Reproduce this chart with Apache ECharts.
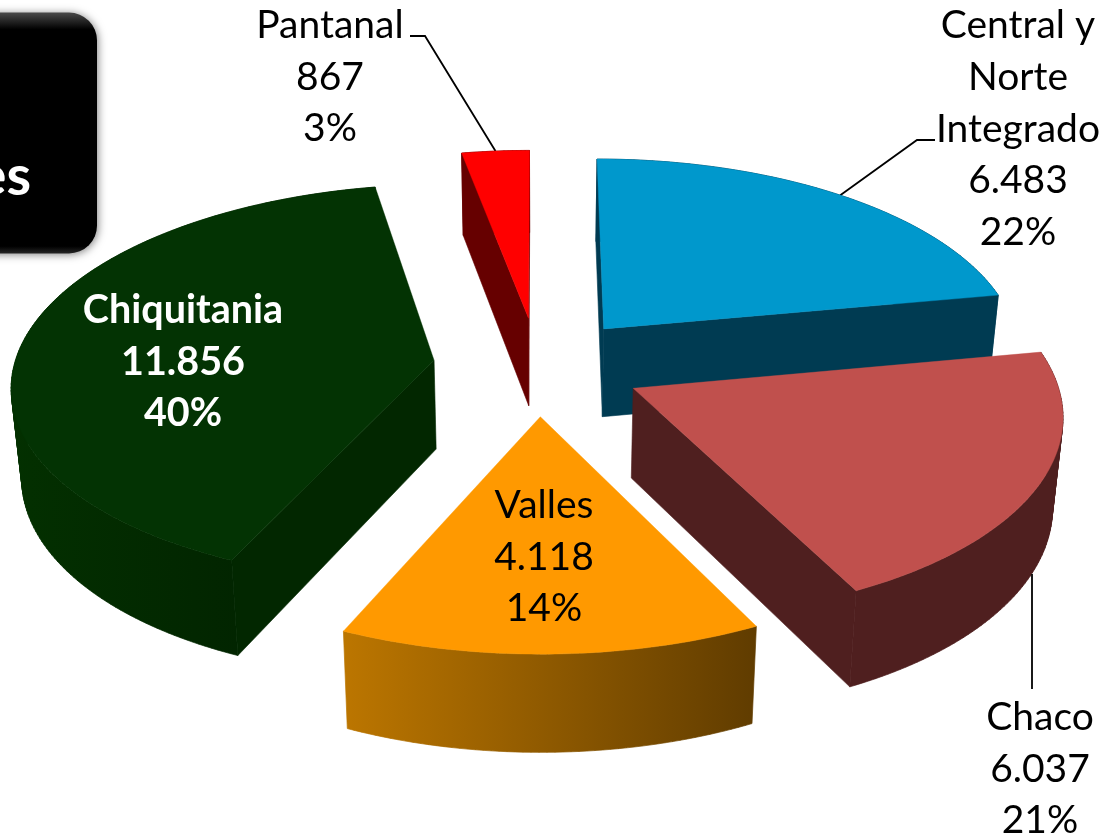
<!DOCTYPE html>
<html>
<head>
<meta charset="utf-8">
<style>html,body{margin:0;padding:0;background:#fff;overflow:hidden}#c{width:1105px;height:837px}</style>
<script src="https://cdn.jsdelivr.net/npm/echarts@6/dist/echarts.min.js"></script>
</head>
<body>
<div id="c"></div>
<script>
const categories = ['Central y\nNorte\nIntegrado', 'Chaco', 'Valles', 'Chiquitania', 'Pantanal'];
const values = [6483, 6037, 4118, 11856, 867];
const percents = ['22%', '21%', '14%', '40%', '3%'];
const valueLabels = ['6.483', '6.037', '4.118', '11.856', '867'];

const topColors = ['#0098CC', '#C0504D', '#FF9900', '#033303', '#FF0000'];
const wallColors = [['#003B52', '#003B52'], ['#4F1F1F', '#4F1F1F'], ['#BC7600', '#603C00'], ['#033000', '#011E00'], ['#660000', '#660000']];
const faceColors = ['#003B52', '#4F1F1F', '#603C00', '#022700', '#660000'];
const paintOrder = [1, 3, 4, 2, 0];

const labelLayout = [
  {x: 1018, y: 129, fill: '#000', weight: 'normal', size: 39, elbow: [[935, 140], [917, 140]], anchorH: 0},
  {x: 1040, y: 769, fill: '#000', weight: 'normal', size: 39, elbow: [[1032, 689], [1032, 574]], anchorH: 1},
  {x: 544, y: 557, fill: '#000', weight: 'normal', size: 39},
  {x: 183, y: 362, fill: '#fff', weight: 'bold', size: 39.5},
  {x: 330, y: 77, fill: '#000', weight: 'normal', size: 39, elbow: [[410, 36], [425, 36]], anchorH: 0}
];

const CX = 538, CY = 366, R = 420, EXPLODE = 105, TILT = 0.47, PERSP = 0.115, THICK = 89, SHRINK = 0.02;
const total = values.reduce((a, b) => a + b, 0);
const starts = [];
values.reduce((acc, v, i) => { starts[i] = acc; return acc + v / total * Math.PI * 2; }, 0);

function project(X, Y, h) {
  const s = 1 / (1 - PERSP * Y / R);
  const b = 1 - SHRINK * h;
  return [CX + X * s * b, CY + TILT * Y * s * b + THICK * h * s];
}
function slicePoint(i, theta, r, h) {
  const mid = starts[i] + values[i] / total * Math.PI;
  const X = EXPLODE * Math.sin(mid) + r * Math.sin(theta);
  const Y = -EXPLODE * Math.cos(mid) - r * Math.cos(theta);
  return project(X, Y, h);
}
// A cut face shows only when the slice's top lies on the far side of the edge from the wall below it.
function faceVisible(apex, rim, inner) {
  const ex = rim[0] - apex[0], ey = rim[1] - apex[1];
  const sideDown = ex;
  const sideInner = ex * (inner[1] - apex[1]) - ey * (inner[0] - apex[0]);
  return sideDown * sideInner < 0;
}
// One path holding a quad per arc step, all wound the same way, so the wall has no seams.
function wallPath(topArc, botArc) {
  let d = '';
  for (let k = 0; k < topArc.length - 1; k++) {
    let q = [topArc[k], topArc[k + 1], botArc[k + 1], botArc[k]];
    let area = 0;
    q.forEach((p, j) => { const r = q[(j + 1) % 4]; area += p[0] * r[1] - r[0] * p[1]; });
    if (area < 0) q = q.reverse();
    d += 'M' + q.map(p => p[0].toFixed(2) + ' ' + p[1].toFixed(2)).join('L') + 'Z';
  }
  return d;
}

function renderItem(params) {
  const i = params.dataIndex;
  const a0 = starts[i], a1 = a0 + values[i] / total * Math.PI * 2;
  const n = Math.max(16, Math.round((a1 - a0) * 60));
  const topArc = [], botArc = [];
  for (let k = 0; k <= n; k++) {
    const t = a0 + (a1 - a0) * k / n;
    topArc.push(slicePoint(i, t, R, 0));
    botArc.push(slicePoint(i, t, R, 1));
  }
  const apexT = slicePoint(i, a0, 0, 0), apexB = slicePoint(i, a0, 0, 1);
  const base = paintOrder[i] * 10;
  const face = faceColors[i];
  const wallFill = new echarts.graphic.LinearGradient(0, 0, 1, 0, [
    {offset: 0, color: wallColors[i][0]}, {offset: 1, color: wallColors[i][1]}
  ]);
  const children = [
    {type: 'path', z2: base + 1, shape: {pathData: wallPath(topArc, botArc)}, style: {fill: wallFill, stroke: wallFill, lineWidth: 0.7}}
  ];
  if (faceVisible(apexT, topArc[0], topArc[1])) {
    children.push({type: 'polygon', z2: base + 2, shape: {points: [apexT, topArc[0], botArc[0], apexB]}, style: {fill: face, stroke: face, lineWidth: 0.6}});
  }
  if (faceVisible(apexT, topArc[n], topArc[n - 1])) {
    children.push({type: 'polygon', z2: base + 2, shape: {points: [apexT, topArc[n], botArc[n], apexB]}, style: {fill: face, stroke: face, lineWidth: 0.6}});
  }
  children.push({type: 'polygon', z2: base + 3, shape: {points: [apexT].concat(topArc)}, style: {fill: topColors[i], stroke: topColors[i], lineWidth: 0.4}});
  const lay = labelLayout[i];
  if (lay.elbow) {
    const mid = (a0 + a1) / 2;
    const anchor = slicePoint(i, mid, R, lay.anchorH);
    children.push({type: 'polyline', z2: lay.anchorH ? base + 4 : base, shape: {points: lay.anchorH ? lay.elbow : lay.elbow.concat([anchor])},
      style: {stroke: '#000', lineWidth: 1.8, fill: null}});
  }
  children.push({type: 'text', z2: 200, style: {
    text: categories[i] + '\n' + valueLabels[i] + '\n' + percents[i],
    x: lay.x, y: lay.y, align: 'center', verticalAlign: 'middle',
    fontFamily: 'Lato', fontSize: lay.size, fontWeight: lay.weight, lineHeight: 51.7, fill: lay.fill
  }});
  return {type: 'group', children};
}

const chart = echarts.init(document.getElementById('c'), null, {renderer: 'canvas'});
chart.setOption({
  animation: false,
  backgroundColor: '#fff',
  graphic: [
    {type: 'rect', z: 5, shape: {x: -40, y: 12.5, width: 137, height: 241, r: 28},
      style: {
        fill: new echarts.graphic.LinearGradient(0, 0, 0, 1, [
          {offset: 0, color: '#4a4a4a'}, {offset: 0.07, color: '#000'},
          {offset: 0.97, color: '#000'}, {offset: 1, color: '#262626'}
        ]),
        shadowBlur: 8, shadowColor: 'rgba(0,0,0,0.5)', shadowOffsetX: 1, shadowOffsetY: 1}},
    {type: 'text', z: 6, style: {text: 'es', x: 31, y: 177, align: 'right', verticalAlign: 'middle',
      fontFamily: 'Lato', fontWeight: 'bold', fontSize: 56, fill: '#fff'}}
  ],
  series: [{
    type: 'custom',
    coordinateSystem: 'none',
    silent: true,
    renderItem,
    data: categories.map((n, i) => ({name: n, value: [values[i]]}))
  }]
});
</script>
</body>
</html>
